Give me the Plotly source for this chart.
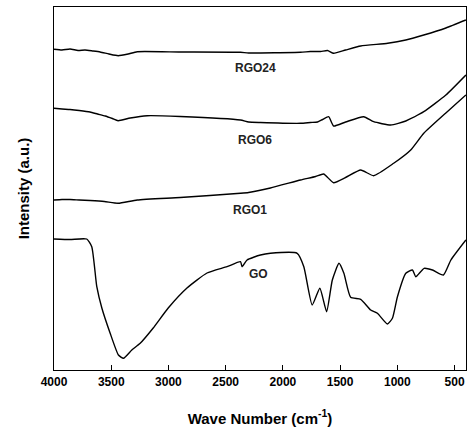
import plotly.graph_objects as go

# Wavenumbers (cm^-1) and intensities (a.u.)
rgo24_x = [4000, 3930, 3860, 3790, 3729, 3660, 3597, 3520, 3440, 3352, 3273, 2897, 2371, 2300, 1846, 1760, 1671, 1610, 1557, 1452, 1320, 1084, 926, 769, 576, 401]
rgo24_y = [320.7, 320, 321, 319.5, 320, 319, 318, 316, 314.3, 316, 318.3, 318, 317.7, 317, 317.7, 318.5, 318.5, 319.5, 316.7, 320, 324, 326.7, 330, 335, 342, 350]

rgo6_x = [4000, 3930, 3860, 3780, 3685, 3620, 3553, 3490, 3440, 3334, 3186, 2897, 2371, 2300, 2196, 1846, 1760, 1697, 1653, 1600, 1557, 1452, 1294, 1207, 1058, 926, 769, 576, 401]
rgo6_y = [261.7, 261, 260.5, 259.5, 258, 256, 254, 251.5, 249.3, 252, 254.3, 253.5, 250, 248, 247.5, 246.7, 247.5, 248, 250.5, 253.3, 244, 248, 253.3, 248.3, 245, 249, 258.3, 275, 295]

rgo1_x = [4000, 3930, 3860, 3780, 3685, 3560, 3440, 3273, 2897, 2371, 2300, 2109, 1846, 1714, 1644, 1557, 1452, 1320, 1207, 1032, 883, 769, 576, 401]
rgo1_y = [170, 170.5, 170.5, 170, 169.5, 168.5, 166.7, 170, 172.5, 176.7, 177.5, 182, 190, 193.5, 196, 187.3, 192.5, 200, 194.3, 206.7, 220, 236.7, 257, 275]

go_x = [4000, 3860, 3714, 3670, 3626, 3582, 3510, 3437, 3393, 3320, 3247, 3133, 3002, 2838, 2663, 2488, 2371, 2356, 2313, 2196, 2109, 1875, 1817, 1744, 1677, 1618, 1568, 1510, 1467, 1408, 1320, 1233, 1174, 1087, 1043, 999, 926, 868, 839, 766, 693, 597, 532, 401]
go_y = [131, 130.5, 131, 123.3, 83.3, 62, 37, 15, 11.7, 20, 26.7, 42, 62, 82, 97, 103.3, 108.3, 103.3, 110, 115, 116.7, 116.7, 103.3, 65, 81.7, 58.3, 90, 106.7, 96.7, 72.7, 70.7, 60, 56.7, 46, 51.7, 73.3, 96.7, 100, 93.3, 101.7, 100, 95, 110, 130]

labels = ["RGO24", "RGO6", "RGO1", "GO"]
label_x = [2240, 2240, 2284, 2214]
label_y = [302, 230, 160, 96]

tick_vals = [4000, 3500, 3000, 2500, 2000, 1500, 1000, 500]

FONT = "Liberation Sans, Arial, sans-serif"

fig = go.Figure()
for xs, ys, name in [(rgo24_x, rgo24_y, "RGO24"), (rgo6_x, rgo6_y, "RGO6"),
                     (rgo1_x, rgo1_y, "RGO1"), (go_x, go_y, "GO")]:
    fig.add_trace(go.Scatter(x=xs, y=ys, mode="lines", name=name,
                             line=dict(color="black", width=1.4, shape="spline", smoothing=0.5),
                             showlegend=False))

for t, xv, yv in zip(labels, label_x, label_y):
    fig.add_annotation(x=xv, y=yv, text="<b>" + t + "</b>", showarrow=False,
                       font=dict(family=FONT, size=12, color="#222222"))

fig.update_layout(
    width=467, height=431,
    margin=dict(l=54, r=1, t=7, b=61, autoexpand=False),
    paper_bgcolor="white", plot_bgcolor="white",
    xaxis=dict(range=[4000, 400], tickvals=tick_vals, automargin=False,
               ticks="inside", ticklen=5, tickwidth=1, tickcolor="black",
               showline=True, linecolor="black", linewidth=1.3, mirror=True,
               showgrid=False, zeroline=False,
               tickfont=dict(family=FONT, size=12, color="black", weight="bold"),
               title=dict(text="<b>Wave Number (cm<sup>-1</sup>)</b>",
                          font=dict(family=FONT, size=15, color="black"), standoff=25)),
    yaxis=dict(range=[0, 363], showticklabels=False, ticks="", automargin=False,
               showline=True, linecolor="black", linewidth=1.3, mirror=True,
               showgrid=False, zeroline=False,
               title=dict(text="<b>Intensity (a.u.)</b>",
                          font=dict(family=FONT, size=15, color="black"), standoff=19)),
)

fig.write_html("out.html",
               config={"displayModeBar": False},
               post_script="document.body.style.margin='0px';document.body.style.padding='0px';"
                           "Plotly.relayout(document.getElementById('{plot_id}'), {width: 467, height: 431});")
